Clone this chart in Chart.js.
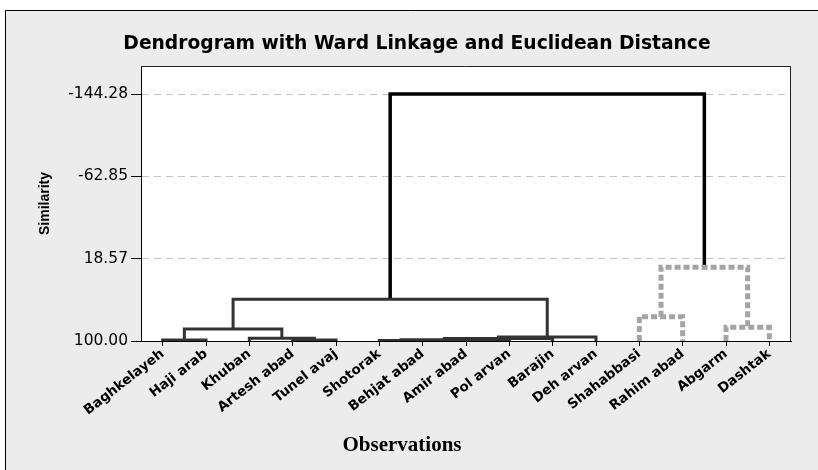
<!DOCTYPE html>
<html><head><meta charset="utf-8">
<script src="https://cdn.jsdelivr.net/npm/chart.js@4.4.1/dist/chart.umd.min.js"></script>
<style>html,body{margin:0;padding:0;background:#fff;overflow:hidden}#wrap{width:818px;height:470px}</style>
</head><body><div id="wrap"><canvas id="c" width="818" height="470"></canvas></div>
<script>
// Leaves, in dendrogram order
const observations = ['Baghkelayeh','Haji arab','Khuban','Artesh abad','Tunel avaj','Shotorak','Behjat abad','Amir abad','Pol arvan','Barajin','Deh arvan','Shahabbasi','Rahim abad','Abgarm','Dashtak'];
// Linkage table: leaves are 0..14, merged clusters are numbered 15.. in merge order
const mergeLeft  = [0, 3, 2, 15, 5, 7, 19, 21, 22, 18, 11, 13, 25, 24];
const mergeRight = [1, 4, 16, 17, 6, 8, 20, 9, 10, 23, 12, 14, 26, 27];
const mergeSimilarity = [98.9, 99.0, 97.3, 88.1, 99.4, 99.3, 98.7, 97.5, 96.0, 58.8, 76.0, 86.4, 27.1, -144.28];
const leafSimilarity = 100;
const yTickValues = [-144.28, -62.85, 18.57, 100.00];
const yAxisMin = -172;
const yAxisMax = 100;

const titleText = 'Dendrogram with Ward Linkage and Euclidean Distance';
const xTitleText = 'Observations';
const yTitleText = 'Similarity';

const n = observations.length;
const nodeX = observations.map((_, i) => i);
const nodeY = observations.map(() => leafSimilarity);
mergeLeft.forEach((l, k) => {
  const r = mergeRight[k];
  nodeX.push((nodeX[l] + nodeX[r]) / 2);
  nodeY.push(mergeSimilarity[k]);
});
const group = {};
function mark(node, g) {
  if (node < n) return;
  const k = node - n;
  group[k] = g;
  mark(mergeLeft[k], g);
  mark(mergeRight[k], g);
}
const rootK = mergeLeft.length - 1;
group[rootK] = 'root';
mark(mergeLeft[rootK], 'solid');
mark(mergeRight[rootK], 'dotted');

const styles = {
  root:   {borderColor: '#000000', borderWidth: 3.5, borderDash: []},
  solid:  {borderColor: '#333333', borderWidth: 3, borderDash: []},
  dotted: {borderColor: '#a4a4a4', borderWidth: 5, borderDash: [6, 3]}
};
const datasets = mergeLeft.map((l, k) => {
  const r = mergeRight[k];
  const h = mergeSimilarity[k];
  return Object.assign({
    data: [{x: nodeX[l], y: nodeY[l]}, {x: nodeX[l], y: h}, {x: nodeX[r], y: h}, {x: nodeX[r], y: nodeY[r]}],
    pointRadius: 0, fill: false, tension: 0, borderJoinStyle: 'miter', borderCapStyle: 'butt'
  }, styles[group[k]]);
});

const framePlugin = {
  id: 'frame',
  beforeDraw(chart) {
    const c = chart.ctx, a = chart.chartArea;
    c.save();
    c.fillStyle = '#ffffff'; c.fillRect(0, 0, 818, 470);
    c.fillStyle = '#ececec'; c.fillRect(5, 10, 813, 460);
    c.strokeStyle = '#000'; c.lineWidth = 1;
    c.beginPath(); c.moveTo(5.5, 470); c.lineTo(5.5, 10.5); c.lineTo(818, 10.5); c.stroke();
    c.fillStyle = '#ffffff'; c.fillRect(a.left, a.top, a.right - a.left, a.bottom - a.top);
    c.restore();
  },
  afterDraw(chart) {
    const c = chart.ctx, a = chart.chartArea;
    c.save();
    c.strokeStyle = '#222'; c.lineWidth = 1;
    c.beginPath(); c.moveTo(a.left, a.top + 0.5); c.lineTo(a.right - 0.5, a.top + 0.5); c.lineTo(a.right - 0.5, a.bottom); c.stroke();
    c.fillStyle = '#000'; c.textAlign = 'center'; c.textBaseline = 'middle';
    c.font = 'bold 18.7px "DejaVu Sans"';
    c.fillText(titleText, 417, 44);
    c.font = 'bold 21px "Liberation Serif"';
    c.fillText(xTitleText, 402, 446);
    c.restore();
  }
};

new Chart(document.getElementById('c'), {
  type: 'line',
  data: {datasets},
  options: {
    responsive: false, animation: false, devicePixelRatio: 1,
    layout: {padding: {left: 0, top: 66, right: 27, bottom: 0}},
    plugins: {legend: {display: false}, tooltip: {enabled: false}, title: {display: false}},
    scales: {
      x: {
        type: 'linear', min: -0.5, max: n - 0.5,
        afterBuildTicks: s => { s.ticks = observations.map((_, i) => ({value: i})); },
        afterFit: s => { s.height = 129; },
        ticks: {autoSkip: false, minRotation: 38, maxRotation: 38, padding: 0, color: '#000',
          font: {family: 'DejaVu Sans', weight: 'bold', size: 13.5},
          callback: v => observations[v]},
        grid: {drawOnChartArea: false, drawTicks: true, tickLength: 5, tickColor: '#000', tickWidth: 1},
        border: {display: true, color: '#000', width: 1}
      },
      y: {
        type: 'linear', reverse: true, min: yAxisMin, max: yAxisMax,
        afterBuildTicks: s => { s.ticks = yTickValues.map(v => ({value: v})); },
        afterFit: s => { s.width = 141; },
        ticks: {padding: 3, color: '#000', font: {family: 'DejaVu Sans', size: 15.5}, callback: v => Number(v).toFixed(2)},
        grid: {color: '#c4c4c4', lineWidth: 1, tickLength: 10, tickColor: '#000', tickWidth: 1, tickBorderDash: [], drawTicks: true},
        border: {display: true, color: '#000', width: 1, dash: [7, 5]},
        title: {display: true, text: yTitleText, color: '#000', font: {family: 'Liberation Sans', weight: 'bold', size: 14}, padding: {top: 37, bottom: 0}}
      }
    }
  },
  plugins: [framePlugin]
});
</script>
</body></html>
